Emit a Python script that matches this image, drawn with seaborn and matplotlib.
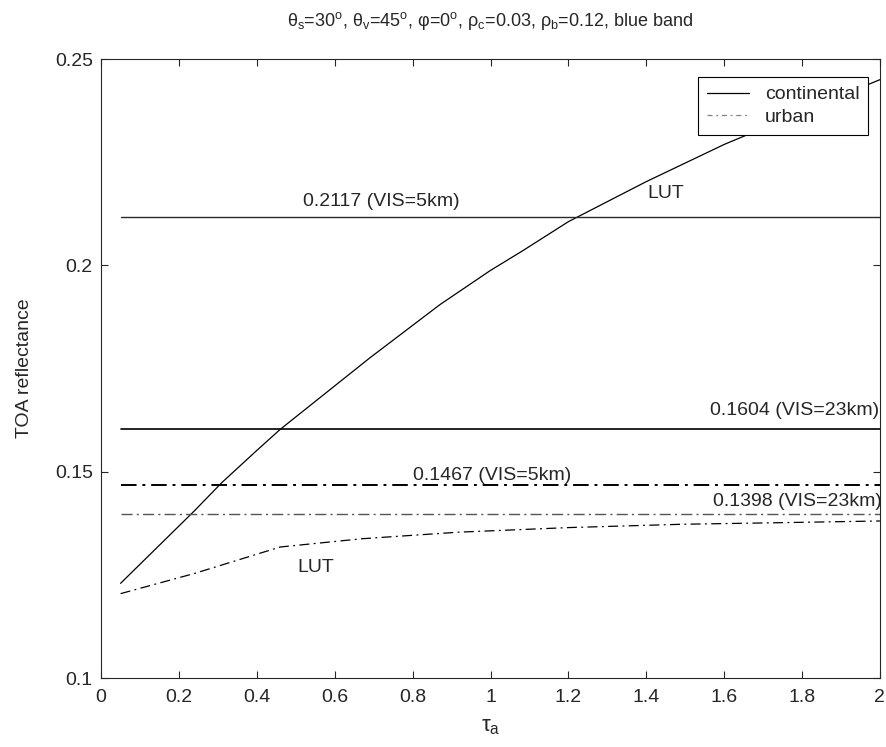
import matplotlib
matplotlib.use('Agg')
import matplotlib.pyplot as plt
import pandas as pd
import seaborn as sns

# LUT curves
tau_cont = [0.05, 0.24, 0.31, 0.40, 0.46, 0.69, 0.87, 1.00, 1.08, 1.20, 1.40, 1.60, 1.80, 2.00]
refl_cont = [0.1230, 0.1406, 0.1474, 0.1552, 0.1603, 0.1776, 0.1905, 0.1988, 0.2034, 0.2106, 0.2203, 0.2293, 0.2372, 0.2450]
tau_urb = [0.05, 0.24, 0.46, 0.67, 0.92, 1.20, 1.49, 1.75, 2.00]
refl_urb = [0.1205, 0.1254, 0.1318, 0.1338, 0.1354, 0.1365, 0.1373, 0.1377, 0.1381]

# measured reflectances (horizontal reference lines)
ref_values = [0.2117, 0.1604, 0.1467, 0.1398]
ref_labels = ['0.2117 (VIS=5km)', '0.1604 (VIS=23km)', '0.1467 (VIS=5km)', '0.1398 (VIS=23km)']

sns.set_style('ticks')
plt.rcParams['font.family'] = ['Liberation Sans', 'DejaVu Sans']
plt.rcParams['mathtext.fontset'] = 'custom'
plt.rcParams['mathtext.rm'] = 'Liberation Sans'
plt.rcParams['mathtext.it'] = 'Liberation Sans:italic'
plt.rcParams['mathtext.sf'] = 'Liberation Sans'

df = pd.concat([
    pd.DataFrame({'tau': tau_cont, 'refl': refl_cont, 'model': 'continental'}),
    pd.DataFrame({'tau': tau_urb, 'refl': refl_urb, 'model': 'urban'}),
])

fig = plt.figure(figsize=(8.87, 7.47), dpi=100)
ax = fig.add_axes([0.114, 0.092, 0.878, 0.829])

sns.lineplot(data=df, x='tau', y='refl', style='model', ax=ax, color='black',
             dashes={'continental': '', 'urban': (8, 3.5, 1.5, 3.5)}, lw=0.9, legend=False)

styles = {
    0.2117: dict(color='#2a2a2a', ls='-', lw=1.0),
    0.1604: dict(color='black', ls='-', lw=1.2),
    0.1467: dict(color='black', ls=(0, (8, 3, 1.5, 3)), lw=1.4),
    0.1398: dict(color='#555555', ls=(0, (8, 3, 1.5, 3)), lw=1.0),
}
for v in ref_values:
    ax.plot([0.05, 2.0], [v, v], **styles[v])

fs = 14
ax.text(0.72, ref_values[0] + 0.0017, ref_labels[0], ha='center', va='bottom', fontsize=fs)
ax.text(1.997, ref_values[1] + 0.0025, ref_labels[1], ha='right', va='bottom', fontsize=fs)
ax.text(0.80, ref_values[2] + 0.0004, ref_labels[2], ha='left', va='bottom', fontsize=fs)
ax.text(2.005, ref_values[3] + 0.0009, ref_labels[3], ha='right', va='bottom', fontsize=fs)
ax.text(1.45, 0.2175, 'LUT', ha='center', va='center', fontsize=fs)
ax.text(0.55, 0.1268, 'LUT', ha='center', va='center', fontsize=fs)

# legend
h1, = ax.plot([], [], color='black', lw=0.9, ls='-')
h2, = ax.plot([], [], color='#808080', lw=0.9, ls=(0, (4, 3, 1.5, 3)))
leg = ax.legend([h1, h2], ['continental', 'urban'], loc='upper right',
                bbox_to_anchor=(0.985, 0.971), fontsize=fs, fancybox=False,
                framealpha=1, edgecolor='black', handlelength=2.2,
                handletextpad=0.8, borderpad=0.45, labelspacing=0.25,
                borderaxespad=0)
leg.get_frame().set_linewidth(0.8)

ax.set_xlim(0, 2)
ax.set_ylim(0.1, 0.25)
ax.set_xticks([0, 0.2, 0.4, 0.6, 0.8, 1, 1.2, 1.4, 1.6, 1.8, 2])
ax.set_xticklabels(['0', '0.2', '0.4', '0.6', '0.8', '1', '1.2', '1.4', '1.6', '1.8', '2'])
ax.set_yticks([0.1, 0.15, 0.2, 0.25])
ax.set_yticklabels(['0.1', '0.15', '0.2', '0.25'])
ax.tick_params(direction='in', top=True, right=True, labelsize=fs, length=5, width=0.8)
ax.tick_params(axis='x', pad=8)
ax.tick_params(axis='y', pad=6)
for s in ax.spines.values():
    s.set_linewidth(0.8)
    s.set_visible(True)

ax.set_xlabel(r'τ$_\mathrm{a}$', fontsize=16, labelpad=7)
ax.set_ylabel('TOA reflectance', fontsize=fs, labelpad=16)
ax.set_title(r'θ$_\mathrm{s}$=30$^\mathrm{o}$, θ$_\mathrm{v}$=45$^\mathrm{o}$, '
             r'φ=0$^\mathrm{o}$, ρ$_\mathrm{c}$=0.03, ρ$_\mathrm{b}$=0.12, blue band',
             fontsize=13, pad=24)

fig.savefig('out.png', dpi=100)
